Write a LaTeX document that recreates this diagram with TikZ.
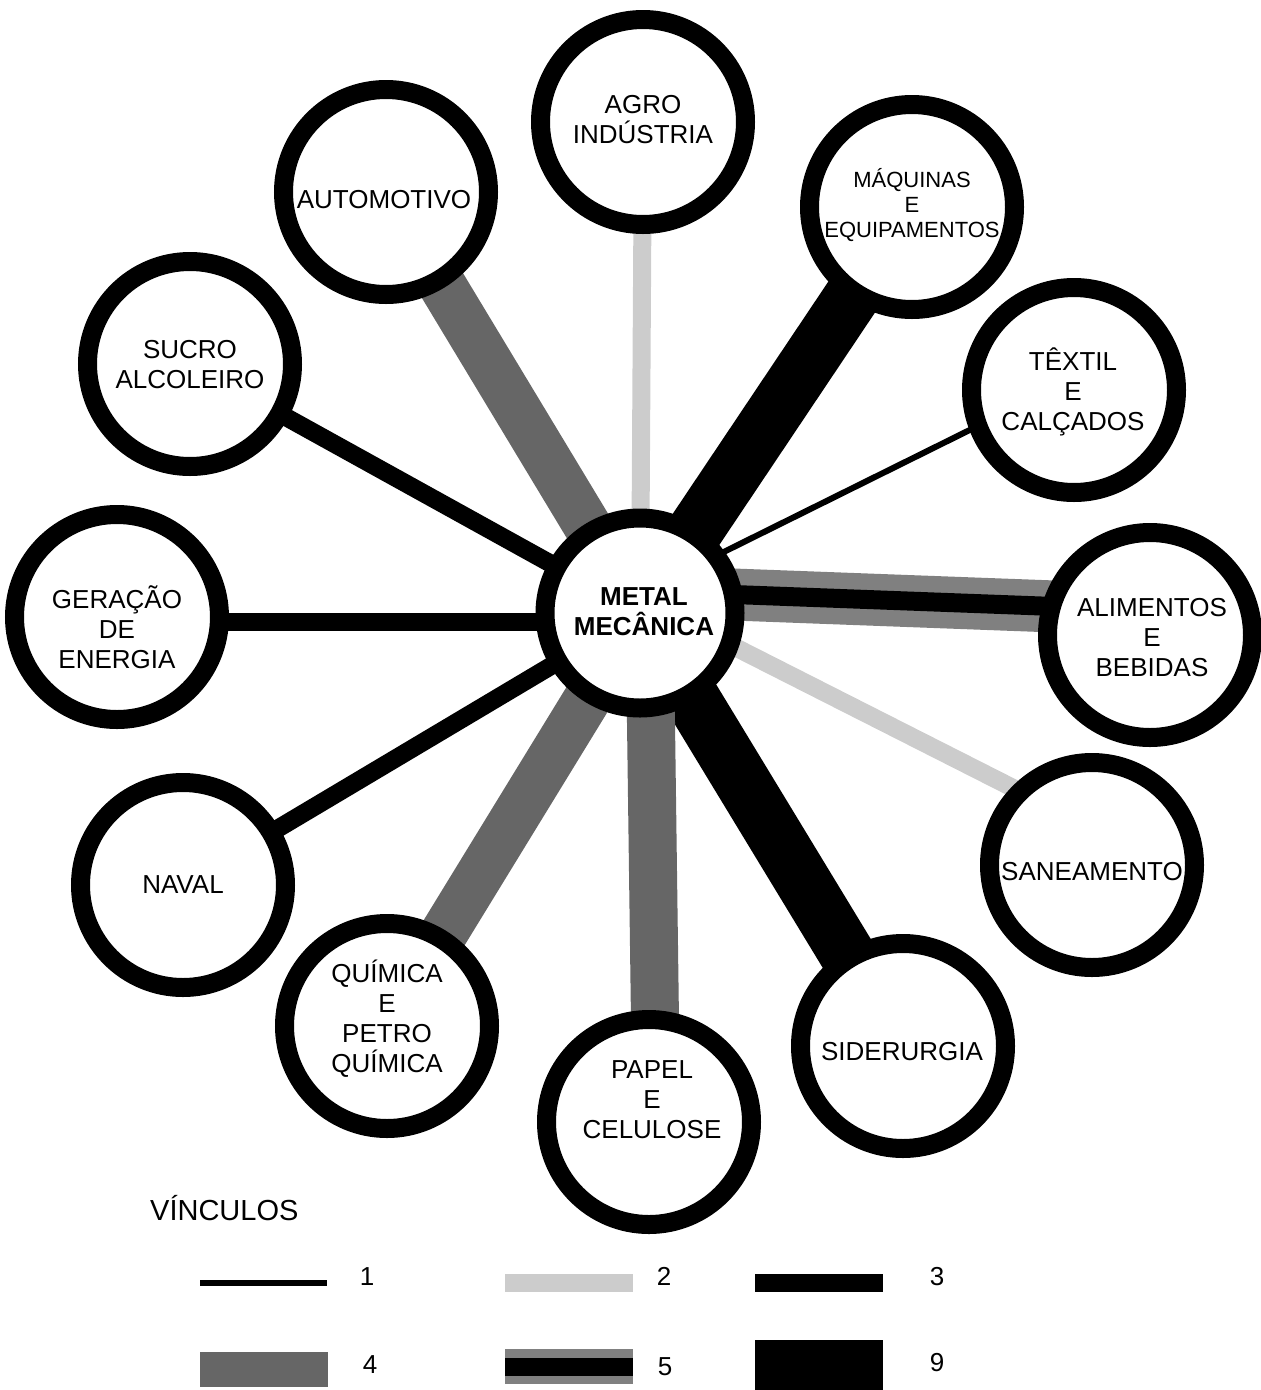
\documentclass[tikz,border=0pt]{standalone}
\usepackage{fontspec}
\setmainfont{Liberation Sans}
\usetikzlibrary{calc}
\pgfdeclarelayer{back}
\pgfsetlayers{back,main}
\definecolor{vlight}{HTML}{CCCCCC}
\definecolor{vmid}{HTML}{808080}
\definecolor{vdark}{HTML}{666666}
\begin{document}
\begin{tikzpicture}[x=1pt,y=-1pt,
  hub/.style={circle, draw=black, line width=19pt, fill=white, minimum size=205pt, inner sep=0pt},
  core/.style={hub, minimum size=190pt},
  lbl/.style={font=\fontsize{26}{30}\selectfont, align=center, inner sep=0pt},
  lblsmall/.style={font=\fontsize{22}{25}\selectfont, align=center, inner sep=0pt},
  ext/.style={shorten <=-30pt, shorten >=-30pt},
  v1/.style={line width=6pt, draw=black},
  v2/.style={line width=18pt, draw=vlight},
  v3/.style={line width=18pt, draw=black},
  v4/.style={line width=48pt, draw=vdark},
  v5out/.style={line width=52pt, draw=vmid},
  v5in/.style={line width=19pt, draw=black},
  v9/.style={line width=56pt, draw=black},
]
\useasboundingbox (0,0) rectangle (1261,1390);

% sector circles
\node[core] (mm)    at (640,613)  {};
\node[hub]  (agro)  at (643,122)  {};
\node[hub]  (maq)   at (912,207)  {};
\node[hub]  (auto)  at (386,192)  {};
\node[hub]  (sucro) at (190,364)  {};
\node[hub]  (tex)   at (1074,390) {};
\node[hub]  (ger)   at (117,617)  {};
\node[hub]  (ali)   at (1150,635) {};
\node[hub]  (naval) at (183,885)  {};
\node[hub]  (san)   at (1092,865) {};
\node[hub]  (qui)   at (387,1026) {};
\node[hub]  (papel) at (649,1122) {};
\node[hub]  (sid)   at (903,1046) {};

% links, drawn underneath the circles
\begin{pgfonlayer}{back}
  \draw[v2] (mm.center) -- (agro.center);
  \draw[v9] (mm.center) -- (maq.center);
  \draw[v4] (mm.center) -- (auto.center);
  \draw[v3] (mm.center) -- (sucro.center);
  \draw[v1, ext] (mm.36) -- (tex.201);
  \draw[v3, ext] ([yshift=-5pt]ger.east) -- ([yshift=-5pt]ger.east -| mm.west);
  \draw[v5out, ext] (mm.10) -- (ali.165);
  \draw[v5in, ext] (mm.10) -- (ali.165);
  \draw[v2, ext] (mm.-20) -- (san.136);
  \draw[v9] (mm.center) -- (sid.center);
  \draw[v4, ext] (mm.-84) -- (papel.87);
  \draw[v4] (mm.center) -- (qui.center);
  \draw[v3] (mm.center) -- (naval.center);
\end{pgfonlayer}

% circle labels
\node[lbl, font=\fontsize{26}{30}\selectfont\bfseries] (mm-t) at (644,612) {METAL\\MECÂNICA};
\node[lbl] (agro-t)  at (643,120)  {AGRO\\INDÚSTRIA};
\node[lblsmall] (maq-t) at (912,205) {MÁQUINAS\\E\\EQUIPAMENTOS};
\node[lbl] (auto-t)  at (384,200)  {AUTOMOTIVO};
\node[lbl] (sucro-t) at (190,365)  {SUCRO\\ALCOLEIRO};
\node[lbl] (tex-t)   at (1073,392) {TÊXTIL\\E\\CALÇADOS};
\node[lbl] (ger-t)   at (117,627)  {GERAÇÃO\\DE\\ENERGIA};
\node[lbl] (ali-t)   at (1152,638) {ALIMENTOS\\E\\BEBIDAS};
\node[lbl] (naval-t) at (183,885)  {NAVAL};
\node[lbl] (san-t)   at (1092,872) {SANEAMENTO};
\node[lbl] (qui-t)   at (387,1019) {QUÍMICA\\E\\PETRO\\QUÍMICA};
\node[lbl] (papel-t) at (652,1100) {PAPEL\\E\\CELULOSE};
\node[lbl] (sid-t)   at (902,1052) {SIDERURGIA};

% legend
\node[lbl, font=\fontsize{29}{32}\selectfont, anchor=west] (leg-t) at (150,1208) {VÍNCULOS};
\fill[black]  (200,1280) rectangle (327,1286);
\fill[vlight] (505,1274) rectangle (633,1292);
\fill[black]  (755,1274) rectangle (883,1292);
\fill[vdark]  (200,1352) rectangle (328,1387);
\fill[vmid]   (505,1349) rectangle (633,1384);
\fill[black]  (505,1358) rectangle (633,1376);
\fill[black]  (755,1340) rectangle (883,1390);
\node[lbl] (leg1) at (367,1277) {1};
\node[lbl] (leg2) at (664,1276) {2};
\node[lbl] (leg3) at (937,1277) {3};
\node[lbl] (leg4) at (370,1365) {4};
\node[lbl] (leg5) at (665,1367) {5};
\node[lbl] (leg9) at (937,1363) {9};
\end{tikzpicture}
\end{document}
